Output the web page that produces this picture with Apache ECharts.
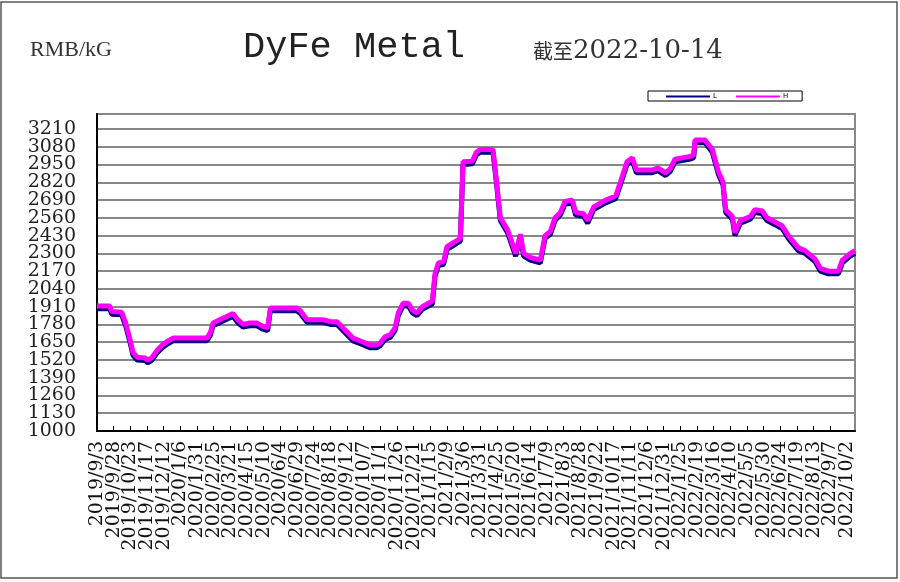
<!DOCTYPE html>
<html>
<head>
<meta charset="utf-8">
<script src="https://cdn.jsdelivr.net/npm/echarts@6/dist/echarts.min.js"></script>
<style>
html,body{margin:0;padding:0;background:#fff;}
#chart{width:900px;height:582px;}
</style>
</head>
<body>
<div id="chart"></div>
<script>
// ---- data ----
const startDate = '2019/9/3';
const endDate = '2022/10/14';
const xLabelEvery = 25;
const yTickValues = [1000,1130,1260,1390,1520,1650,1780,1910,2040,2170,2300,2430,2560,2690,2820,2950,3080,3210];
const yEndLabels = [1000, 3210];
const seriesNames = ['L', 'H'];
const pointDates = [
'2019/9/3','2019/9/22','2019/9/25','2019/10/10','2019/10/16','2019/10/22','2019/10/27','2019/11/2','2019/11/14','2019/11/18',
'2019/11/24','2019/12/2','2019/12/10','2019/12/17','2019/12/26','2020/2/15','2020/2/20','2020/2/24','2020/3/10','2020/3/25',
'2020/4/1','2020/4/9','2020/4/19','2020/4/30','2020/5/9','2020/5/16','2020/5/20','2020/6/29','2020/7/4','2020/7/14',
'2020/8/7','2020/8/18','2020/8/28','2020/9/2','2020/9/12','2020/9/21','2020/10/4','2020/10/16','2020/10/27','2020/11/1',
'2020/11/8','2020/11/16','2020/11/23','2020/11/28','2020/12/5','2020/12/13','2020/12/19','2020/12/26','2021/1/3','2021/1/12',
'2021/1/18','2021/1/22','2021/1/27','2021/2/4','2021/2/9','2021/2/21','2021/3/1','2021/3/5','2021/3/19','2021/3/25',
'2021/3/31','2021/4/19','2021/4/24','2021/4/30','2021/5/11','2021/5/23','2021/5/27','2021/5/30','2021/6/4','2021/6/14',
'2021/6/29','2021/7/6','2021/7/14','2021/7/21','2021/7/29','2021/8/5','2021/8/16','2021/8/21','2021/9/2','2021/9/8',
'2021/9/17','2021/10/5','2021/10/20','2021/10/27','2021/11/6','2021/11/14','2021/11/20','2021/12/14','2021/12/22','2022/1/3',
'2022/1/10','2022/1/17','2022/2/9','2022/2/14','2022/2/16','2022/3/3','2022/3/14','2022/3/23','2022/3/30','2022/4/3',
'2022/4/13','2022/4/17','2022/4/25','2022/5/10','2022/5/17','2022/5/28','2022/6/4','2022/6/16','2022/6/27','2022/7/6',
'2022/7/21','2022/7/31','2022/8/15','2022/8/23','2022/9/4','2022/9/19','2022/9/25','2022/10/7','2022/10/14'
];
const lowValues = [
1895,1895,1855,1850,1770,1660,1555,1520,1515,1500,
1515,1570,1610,1635,1660,1660,1700,1770,1805,1840,
1795,1760,1770,1770,1745,1735,1880,1880,1860,1795,
1795,1780,1780,1755,1705,1660,1635,1610,1610,1625,
1670,1685,1735,1845,1915,1915,1865,1845,1890,1915,
1930,2130,2210,2220,2330,2365,2390,2950,2955,3020,
3040,3040,2820,2540,2450,2280,2360,2420,2280,2250,
2230,2410,2440,2540,2580,2660,2670,2580,2570,2520,
2620,2670,2700,2800,2950,2980,2890,2890,2905,2870,
2900,2970,2990,3000,3110,3110,3040,2880,2800,2600,
2550,2430,2520,2550,2600,2590,2540,2510,2480,2410,
2320,2300,2240,2170,2150,2150,2230,2280,2300
];
const highValues = [
1915,1915,1875,1870,1790,1680,1575,1540,1535,1520,
1535,1590,1630,1655,1680,1680,1720,1790,1825,1860,
1815,1780,1790,1790,1765,1755,1900,1900,1880,1815,
1815,1800,1800,1775,1725,1680,1655,1630,1630,1645,
1690,1705,1755,1865,1935,1935,1885,1865,1910,1935,
1950,2150,2230,2240,2350,2385,2410,2970,2975,3040,
3060,3060,2840,2560,2470,2300,2380,2440,2300,2270,
2250,2430,2460,2560,2600,2680,2690,2600,2590,2540,
2640,2690,2720,2820,2970,3000,2910,2910,2925,2890,
2920,2990,3010,3020,3130,3130,3060,2900,2820,2620,
2570,2450,2540,2570,2620,2610,2560,2530,2500,2430,
2340,2320,2260,2190,2170,2170,2250,2300,2320
];

// daily category list
function buildDays(s, e) {
  const out = [];
  const d = new Date(s);
  const end = new Date(e);
  while (d <= end) {
    out.push(d.getFullYear() + '/' + (d.getMonth() + 1) + '/' + d.getDate());
    d.setDate(d.getDate() + 1);
  }
  return out;
}
const categories = buildDays(startDate, endDate);
const lastLabelIdx = Math.floor((categories.length - 1) / xLabelEvery) * xLabelEvery;

const xLabelStyle = {rotate: 90, margin: 10, hideOverlap: false, lineHeight: 12,
  fontFamily: 'DejaVu Serif', fontSize: 19, color: '#111'};
const yLabelStyle = {margin: 21, hideOverlap: false, lineHeight: 13,
  formatter: function (v) { return String(v); },
  fontFamily: 'DejaVu Serif', fontSize: 19, color: '#222'};

const chart = echarts.init(document.getElementById('chart'), null, {renderer: 'canvas'});
chart.setOption({
  animation: false,
  backgroundColor: '#fff',
  graphic: [
    {type: 'rect', shape: {x: 1, y: 2, width: 896, height: 576}, style: {fill: 'none', stroke: '#555', lineWidth: 1.5}, z: 100},
    {type: 'text', x: 30, y: 50, style: {text: 'RMB/kG', font: '22px "Liberation Serif"', fill: '#333', verticalAlign: 'middle'}},
    {type: 'text', x: 243, y: 47, style: {text: 'DyFe Metal', font: '37px "Liberation Mono"', fill: '#222', verticalAlign: 'middle'}},
    {type: 'text', x: 533, y: 51, style: {
      text: '{a|截至}{b|2022-10-14}', verticalAlign: 'middle', fill: '#333',
      rich: {a: {fontFamily: 'Noto Sans CJK SC', fontSize: 20, fill: '#333'}, b: {fontFamily: 'DejaVu Serif', fontSize: 26, fill: '#333'}}
    }}
  ],
  legend: {
    left: 648, top: 91,
    data: seriesNames,
    icon: 'rect',
    itemWidth: 44, itemHeight: 2,
    itemGap: 19,
    padding: [2, 14, 1, 18],
    borderColor: '#000', borderWidth: 1,
    textStyle: {fontSize: 7, color: '#000', fontFamily: 'DejaVu Sans', padding: [0, 0, 0, -2]}
  },
  grid: {
    left: 97, right: 45, top: 114, bottom: 151,
    show: true, borderColor: '#888', borderWidth: 2, backgroundColor: '#fff'
  },
  xAxis: [
    {
      type: 'category',
      data: categories,
      boundaryGap: false,
      axisLine: {lineStyle: {color: '#000', width: 2}},
      axisTick: {show: true, inside: true, interval: xLabelEvery - 1, length: 5, lineStyle: {color: '#000', width: 1}},
      axisLabel: Object.assign({interval: xLabelEvery - 1, showMinLabel: false, showMaxLabel: false}, xLabelStyle),
      splitLine: {show: false}
    },
    {
      type: 'category',
      data: categories,
      position: 'bottom',
      boundaryGap: false,
      axisLine: {show: false},
      axisTick: {show: false},
      axisLabel: Object.assign({interval: function (idx) { return idx === 0 || idx === lastLabelIdx; }}, xLabelStyle),
      splitLine: {show: false}
    }
  ],
  yAxis: [
    {
      type: 'value',
      min: 1000, max: 3320,
      axisLine: {show: true, lineStyle: {color: '#000', width: 2}},
      axisTick: {show: false, customValues: yTickValues},
      axisLabel: Object.assign({customValues: yTickValues, showMinLabel: false, showMaxLabel: false}, yLabelStyle),
      splitLine: {show: true, lineStyle: {color: '#888', width: 2}}
    },
    {
      type: 'value',
      min: 1000, max: 3320,
      position: 'left',
      axisLine: {show: false},
      axisTick: {show: false, customValues: yEndLabels},
      axisLabel: Object.assign({customValues: yEndLabels}, yLabelStyle),
      splitLine: {show: false}
    }
  ],
  series: [
    {
      name: 'L', type: 'line', symbol: 'none',
      data: lowValues.map((v, i) => [pointDates[i], v]),
      lineStyle: {color: '#000080', width: 5},
      itemStyle: {color: '#000080'}
    },
    {
      name: 'H', type: 'line', symbol: 'none',
      data: highValues.map((v, i) => [pointDates[i], v]),
      lineStyle: {color: '#FF00FF', width: 5},
      itemStyle: {color: '#FF00FF'}
    }
  ]
});
</script>
</body>
</html>
